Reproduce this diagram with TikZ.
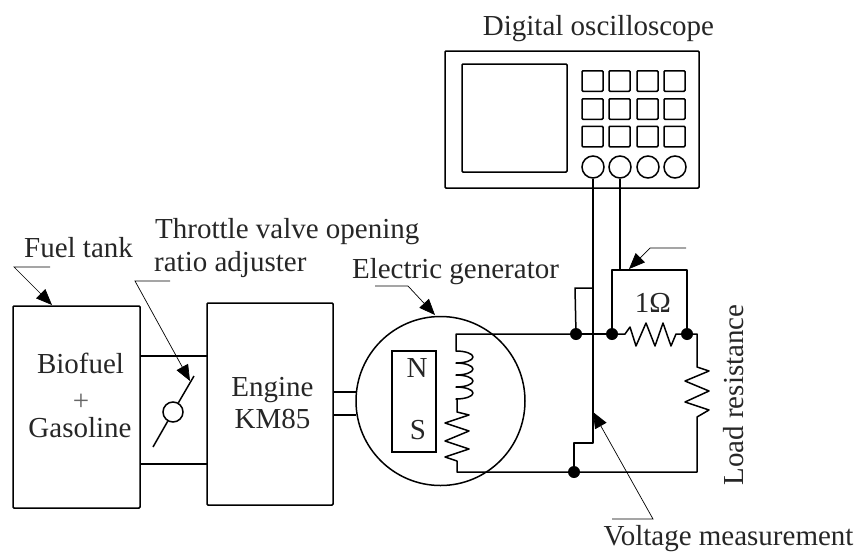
\documentclass[tikz,border=0pt]{standalone}
\usepackage{fontspec}
\setmainfont{Liberation Serif}
\usetikzlibrary{arrows.meta}
\tikzset{
 wire/.style={line width=1.5pt,line join=round},
 leader/.style={line width=0.7pt,-{Triangle[length=16pt,width=13pt]}},
 dot/.style={circle,fill=black,inner sep=0pt,minimum size=12pt},
 lbl/.style={inner sep=0pt,font=\fontsize{29}{31}\selectfont,text=black!85},
 pin/.style={circle,draw,line width=1.5pt,minimum size=22pt,inner sep=0pt},
 key/.style={draw,line width=1.5pt,rounded corners=1pt,minimum width=21pt,minimum height=20.5pt,inner sep=0pt}
}
\begin{document}
\begin{tikzpicture}[x=1pt,y=-1pt]
\useasboundingbox (0,0) rectangle (857,552);
% scope
\node[draw,line width=1.5pt,rounded corners=1pt,minimum width=254pt,minimum height=137pt,inner sep=0pt] (scope) at (572,119.5) {};
\node[draw,line width=1.5pt,rounded corners=1pt,minimum width=105pt,minimum height=108pt,inner sep=0pt] (screen) at (514.5,118) {};
\foreach \r/\y in {1/81,2/109,3/136.5}{
 \foreach \c/\x in {1/592.5,2/619.5,3/647.5,4/674.5}{
  \node[key] (k\r\c) at (\x,\y) {};
 }
}
\node[pin] (p1) at (593,167) {};
\node[pin] (p2) at (620,167) {};
\node[pin] (p3) at (648,167) {};
\node[pin] (p4) at (675,167) {};
\node[lbl,anchor=base] (tscope) at (598.5,35) {Digital oscilloscope};
% tank, engine
\node[draw,line width=1.5pt,rounded corners=1pt,minimum width=127pt,minimum height=202pt,inner sep=0pt] (tank) at (76.5,407) {};
\node[draw,line width=1.5pt,rounded corners=1pt,minimum width=126pt,minimum height=202pt,inner sep=0pt] (engine) at (270,404) {};
\node[lbl,anchor=base] (t1) at (80.5,373) {Biofuel};
\node[lbl,anchor=base,text=black!60] (t2) at (81,410) {+};
\node[lbl,anchor=base] (t3) at (80,437) {Gasoline};
\node[lbl,anchor=base] (t4) at (272.5,396) {Engine};
\node[lbl,anchor=base] (t5) at (272.5,428) {KM85};
\coordinate (ta) at (140,356); \coordinate (tb) at (207,356);
\coordinate (tc) at (140,464); \coordinate (td) at (207,464);
\draw[wire] (ta) -- (tb);
\draw[wire] (tc) -- (td);
% valve
\node[circle,draw,line width=1.5pt,minimum size=20pt,inner sep=0pt] (valve) at (173,412) {};
\coordinate (va) at (153,447); \coordinate (vb) at (194,376);
\draw[wire] (va) -- (valve);
\draw[wire] (valve) -- (vb);
% shaft
\node[circle,draw,line width=1.5pt,minimum size=169pt,inner sep=0pt] (gen) at (440.5,401) {};
\coordinate (sa) at (333,392); \coordinate (sb) at (356,392);
\coordinate (sc) at (333,415); \coordinate (sd) at (356,415);
\draw[wire] (sa) -- (sb);
\draw[wire] (sc) -- (sd);
% magnet
\node[draw,line width=1.2pt,minimum width=44pt,minimum height=101pt,inner sep=0pt] (mag) at (414,401.5) {};
\node[lbl] (tn) at (417,368) {N};
\node[lbl] (ts) at (418,430) {S};
% junctions
\node[dot] (j1) at (576,334) {};
\node[dot] (j2) at (612,334) {};
\node[dot] (j3) at (687,334) {};
\node[dot] (j4) at (574,472) {};
% winding + circuit
\draw[wire] (j1) -- (456,334) -- (456,351)
  arc[start angle=90,end angle=-90,x radius=17pt,y radius=6pt]
  arc[start angle=90,end angle=-90,x radius=17pt,y radius=6pt]
  arc[start angle=90,end angle=-90,x radius=17pt,y radius=6pt]
  arc[start angle=90,end angle=-90,x radius=17pt,y radius=6pt]
  -- (457,399) -- (457,412) -- (469,415) -- (445,423) -- (469,431) -- (445,441) -- (469,449) -- (445,457) -- (457,461) -- (457,472) -- (j4);
\draw[wire] (j1) -- (j2);
\draw[wire] (j2) -- (625,334) -- (630,327) -- (636,346) -- (646,323) -- (655,346) -- (663,323) -- (671,346) -- (676,334) -- (j3);
\draw[wire] (j3) -- (697,334) -- (697,367) -- (709,371) -- (685,381) -- (709,391) -- (685,402) -- (709,410) -- (697,417) -- (697,472) -- (j4);
% measurement
\draw[wire] (p1) -- (593,443) -- (574,443) -- (j4);
\draw[wire] (j1) -- (575,288) -- (593,288);
\draw[wire] (p2) -- (620,270);
\draw[wire] (j2) -- (612,270) -- (687,270) -- (j3);
\node[lbl] (tohm) at (653,303) {1Ω};
\node[lbl,rotate=90,anchor=base] (tload) at (743,395) {Load resistance};
% labels + leaders
\node[lbl,anchor=base] (tfuel) at (78.5,257) {Fuel tank};
\node[lbl,anchor=base west] (tth1) at (155,238) {Throttle valve opening};
\node[lbl,anchor=base west] (tth2) at (154,271) {ratio adjuster};
\node[lbl,anchor=base] (tgen) at (455.5,278) {Electric generator};
\node[lbl,anchor=base] (tvolt) at (728.5,545) {Voltage measurement};
\coordinate (fa) at (50,267); \coordinate (fb) at (14,267); \coordinate (fc) at (52,305);
\draw[leader] (fa) -- (fb) -- (fc);
\coordinate (ga) at (170,281); \coordinate (gb) at (135,281); \coordinate (gc) at (190,381);
\draw[leader] (ga) -- (gb) -- (gc);
\coordinate (ha) at (375,286); \coordinate (hb) at (408,286); \coordinate (hc) at (435,315);
\draw[leader] (ha) -- (hb) -- (hc);
\coordinate (ia) at (686,248); \coordinate (ib) at (650,248); \coordinate (ic) at (629,269);
\draw[leader] (ia) -- (ib) -- (ic);
\coordinate (ja) at (612,519); \coordinate (jb) at (653,519); \coordinate (jc) at (593,412);
\draw[leader] (ja) -- (jb) -- (jc);
\end{tikzpicture}
\end{document}
